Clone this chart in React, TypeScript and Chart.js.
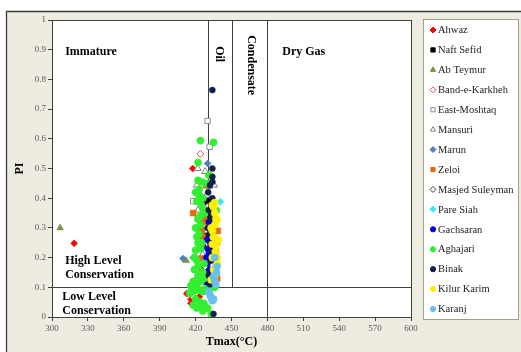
import React, { useEffect, useRef } from "react";
import { Chart, registerables } from "chart.js";
import { drawPoint } from "chart.js/helpers";

Chart.register(...registerables);

// ---------- DATA: [Tmax (°C), PI] ----------
const seriesNames = [
  "Ahwaz", "Naft Sefid", "Ab Teymur", "Band-e-Karkheh", "East-Moshtaq",
  "Mansuri", "Marun", "Zeloi", "Masjed Suleyman", "Pare Siah",
  "Gachsaran", "Aghajari", "Binak", "Kilur Karim", "Karanj",
];

const ahwaz: [number, number][] = [
  [318.5, 0.248], [417.6, 0.5], [412.6, 0.079], [423, 0.068], [416, 0.06], [416, 0.046],
];
const naftSefid: [number, number][] = [
  [430.6, 0.394], [433, 0.394], [428.5, 0.39], [427, 0.385], [430, 0.34], [428, 0.275],
  [432, 0.23], [435, 0.235], [426.5, 0.237], [429, 0.165], [425, 0.12], [431, 0.105],
  [433, 0.31], [434, 0.19], [429, 0.12], [427, 0.2],
];
const abTeymur: [number, number][] = [
  [306.8, 0.3], [412, 0.19],
];
const bandEKarkheh: [number, number][] = [
  [424, 0.549], [421, 0.05], [418.5, 0.066],
];
const eastMoshtaq: [number, number][] = [
  [430, 0.66], [431.7, 0.573], [418, 0.39], [421, 0.1],
];
const mansuri: [number, number][] = [
  [421.7, 0.5], [428, 0.49], [421, 0.444], [435.4, 0.444], [431, 0.44], [425, 0.38],
  [427, 0.37], [424, 0.3], [425, 0.29], [426, 0.21], [423, 0.14], [419, 0.12],
  [429, 0.41], [422, 0.36],
];
const marun: [number, number][] = [
  [430, 0.517], [418, 0.2], [409.4, 0.197], [420, 0.2], [427, 0.14],
];
const zeloi: [number, number][] = [
  [428.7, 0.444], [418, 0.35], [427, 0.34], [427, 0.32], [422, 0.33], [425, 0.293],
  [436.5, 0.29], [438.5, 0.29], [425, 0.242], [438, 0.254], [425, 0.197], [425, 0.16],
  [438, 0.13], [428, 0.12], [426, 0.27], [437, 0.22],
];
const masjedSuleyman: [number, number][] = [
  [428, 0.17], [420, 0.06],
];
const pareSiah: [number, number][] = [
  [440.6, 0.388], [437, 0.175],
];
const gachsaran: [number, number][] = [
  [431, 0.32], [432, 0.28], [429.5, 0.26], [430, 0.23], [431, 0.214], [430, 0.18],
  [432, 0.16], [431, 0.13], [430, 0.11], [428, 0.09], [429, 0.2], [431, 0.15],
];
const aghajari: [number, number][] = [
  [424, 0.594], [435, 0.588], [422, 0.52], [431, 0.478], [425, 0.455], [429, 0.45],
  [423, 0.43], [420, 0.42], [423, 0.41], [426, 0.4], [421, 0.39], [424, 0.385],
  [426, 0.365], [428, 0.35], [437.3, 0.358], [422, 0.33], [424, 0.31], [420, 0.3],
  [423, 0.28], [421, 0.27], [425, 0.25], [424, 0.23], [420, 0.225], [419, 0.2],
  [421, 0.19], [427, 0.18], [422, 0.17], [422, 0.14], [427, 0.13], [418, 0.12],
  [424, 0.12], [420, 0.11], [416, 0.105], [433, 0.1], [436, 0.1], [421, 0.1],
  [417, 0.095], [428, 0.095], [423, 0.09], [419, 0.088], [426, 0.085], [415, 0.08],
  [420, 0.06], [424, 0.05], [427, 0.045], [418, 0.04], [424, 0.035], [428, 0.03],
  [421, 0.03], [430, 0.03], [426, 0.02], [433, 0.01], [422, 0.46], [424, 0.34],
  [422, 0.25], [426, 0.15], [419, 0.16],
];
const binak: [number, number][] = [
  [434, 0.764], [434, 0.5], [434, 0.472], [434, 0.455], [432, 0.444], [430.5, 0.42],
  [434, 0.4], [431, 0.36], [433, 0.33], [430, 0.3], [432, 0.28], [432, 0.25],
  [433, 0.22], [433, 0.19], [432, 0.11], [435, 0.01], [431, 0.14], [433, 0.35],
];
const kilurKarim: [number, number][] = [
  [436, 0.385], [434, 0.377], [435, 0.37], [437, 0.33], [438, 0.327], [436, 0.31],
  [433, 0.3], [434, 0.29], [435, 0.27], [439, 0.26], [434, 0.245], [437, 0.24],
  [436.5, 0.22], [438, 0.2], [438, 0.18], [435, 0.16], [436, 0.14], [433, 0.125],
  [434, 0.2], [436, 0.35],
];
const karanj: [number, number][] = [
  [436, 0.2], [438, 0.17], [437.5, 0.15], [435, 0.135], [436, 0.12], [437, 0.11],
  [431, 0.085], [432, 0.075], [433, 0.065], [435, 0.06], [434, 0.055],
];

const seriesData = [
  ahwaz, naftSefid, abTeymur, bandEKarkheh, eastMoshtaq, mansuri, marun, zeloi,
  masjedSuleyman, pareSiah, gachsaran, aghajari, binak, kilurKarim, karanj,
];

// axis ranges / ticks
const xMin = 300, xMax = 600, xStep = 30;
const yMin = 0, yMax = 1, yStep = 0.1;

// zone boundaries [x1, y1, x2, y2] in data units
const zoneLines: [number, number, number, number][] = [
  [300, 0.1, 600, 0.1],
  [430, 0.1, 430, 1],
  [450, 0.1, 450, 1],
  [480, 0, 480, 1],
];

// zone labels [text, x, y, rotated]
const zoneLabels: [string, number, number, boolean][] = [
  ["Immature", 311, 0.892, false],
  ["Dry Gas", 492.4, 0.892, false],
  ["Oil", 439.8, 0.885, true],
  ["Condensate", 466.6, 0.848, true],
  ["High Level", 311, 0.189, false],
  ["Conservation", 311, 0.141, false],
  ["Low Level", 308.6, 0.067, false],
  ["Conservation", 308.6, 0.02, false],
];

// ---------- STYLES ----------
type Sty = { style: string; color: string; hollow: boolean; r: number };
const styles: Sty[] = [
  { style: "rectRot", color: "#FF0000", hollow: false, r: 3.5 },
  { style: "rect", color: "#000000", hollow: false, r: 3.3 },
  { style: "triangle", color: "#77933C", hollow: false, r: 4 },
  { style: "rectRot", color: "#C8605C", hollow: true, r: 3.5 },
  { style: "rect", color: "#8A8AA0", hollow: true, r: 3.8 },
  { style: "triangle", color: "#808080", hollow: true, r: 4 },
  { style: "rectRot", color: "#4F81BD", hollow: false, r: 3.5 },
  { style: "rect", color: "#E36C09", hollow: false, r: 4.2 },
  { style: "rectRot", color: "#404040", hollow: true, r: 3.5 },
  { style: "rectRot", color: "#33E6F0", hollow: false, r: 3.6 },
  { style: "circle", color: "#0000E0", hollow: false, r: 3 },
  { style: "circle", color: "#33EE33", hollow: false, r: 3.6 },
  { style: "circle", color: "#0F1F50", hollow: false, r: 3 },
  { style: "circle", color: "#FFF000", hollow: false, r: 3.6 },
  { style: "circle", color: "#66C0EE", hollow: false, r: 3.6 },
];

const serif = '"Liberation Serif", "Times New Roman", serif';

const decorPlugin = {
  id: "decor",
  beforeDraw(chart: any) {
    const { ctx, width, height, chartArea: a } = chart;
    ctx.save();
    ctx.fillStyle = "#ffffff";
    ctx.fillRect(0, 0, width, height);
    ctx.fillStyle = "#EEECE1";
    ctx.fillRect(6, 11, width - 6, height - 11);
    ctx.strokeStyle = "#3a3a3a";
    ctx.lineWidth = 1.3;
    ctx.beginPath();
    ctx.moveTo(6.5, height);
    ctx.lineTo(6.5, 11.5);
    ctx.lineTo(width, 11.5);
    ctx.stroke();
    ctx.fillStyle = "#ffffff";
    ctx.fillRect(a.left, a.top, a.right - a.left, a.bottom - a.top);
    ctx.restore();
  },
  beforeDatasetsDraw(chart: any) {
    const { ctx, chartArea: a, scales } = chart;
    const xs = scales.x, ys = scales.y;
    ctx.save();
    ctx.strokeStyle = "#404040";
    ctx.lineWidth = 1;
    for (const [x1, y1, x2, y2] of zoneLines) {
      ctx.beginPath();
      ctx.moveTo(Math.round(xs.getPixelForValue(x1)) + 0.5, Math.round(ys.getPixelForValue(y1)) + 0.5);
      ctx.lineTo(Math.round(xs.getPixelForValue(x2)) + 0.5, Math.round(ys.getPixelForValue(y2)) + 0.5);
      ctx.stroke();
    }
    ctx.strokeRect(Math.round(a.left) + 0.5, Math.round(a.top) + 0.5,
      Math.round(a.right - a.left), Math.round(a.bottom - a.top));
    ctx.restore();
  },
  afterDraw(chart: any) {
    const { ctx, scales } = chart;
    const xs = scales.x, ys = scales.y;
    ctx.save();
    ctx.fillStyle = "#000";
    ctx.font = `bold 12px ${serif}`;
    for (const [t, x, y, rot] of zoneLabels) {
      const px = xs.getPixelForValue(x), py = ys.getPixelForValue(y);
      if (rot) {
        ctx.save();
        ctx.translate(px, py);
        ctx.rotate(Math.PI / 2);
        ctx.textAlign = "center";
        ctx.textBaseline = "middle";
        ctx.fillText(t, 0, 0);
        ctx.restore();
      } else {
        ctx.textAlign = "left";
        ctx.textBaseline = "middle";
        ctx.fillText(t, px, py);
      }
    }
    // legend
    const lx = 423.5, ly = 19.5, lw = 95, lh = 300;
    ctx.fillStyle = "#ffffff";
    ctx.fillRect(lx, ly, lw, lh);
    ctx.strokeStyle = "#9DA283";
    ctx.lineWidth = 1;
    ctx.strokeRect(lx, ly, lw, lh);
    ctx.font = `10.5px ${serif}`;
    ctx.textAlign = "left";
    ctx.textBaseline = "middle";
    seriesNames.forEach((name, i) => {
      const cy = 30 + i * 19.93;
      const s = styles[i];
      ctx.fillStyle = s.hollow ? "#fff" : s.color;
      ctx.strokeStyle = s.color;
      drawPoint(ctx, {
        pointStyle: s.style as any,
        radius: s.style === "circle" ? 2.6 : 3,
        rotation: 0,
        borderWidth: s.hollow ? 0.8 : 0.5,
      } as any, 433, cy);
      ctx.fillStyle = "#222";
      ctx.fillText(name, 438, cy + 0.5);
    });
    ctx.restore();
  },
};

export default function App() {
  const ref = useRef<HTMLCanvasElement>(null);
  useEffect(() => {
    document.body.style.margin = "0";
    const datasets = seriesData.map((pts, i) => {
      const s = styles[i];
      return {
        label: seriesNames[i],
        data: pts.map(([x, y]) => ({ x, y })),
        pointStyle: s.style,
        pointRadius: s.r,
        pointHoverRadius: s.r,
        backgroundColor: s.hollow ? "#ffffff" : s.color,
        borderColor: s.color,
        borderWidth: s.hollow ? 1 : 0.5,
        order: seriesNames.length - i,
        showLine: false,
      };
    });
    const tickFont = { family: serif, size: 9 };
    const chart = new Chart(ref.current!, {
      type: "scatter",
      data: { datasets } as any,
      plugins: [decorPlugin],
      options: {
        responsive: false,
        animation: false,
        layout: { padding: { left: 0, top: 20, right: 110, bottom: 0 } },
        plugins: { legend: { display: false }, tooltip: { enabled: false }, title: { display: false } },
        scales: {
          x: {
            type: "linear",
            min: xMin, max: xMax,
            afterFit: (s: any) => { s.height = 35; },
            ticks: { stepSize: xStep, font: tickFont, color: "#595959", padding: 2, maxRotation: 0, autoSkip: false },
            grid: { drawOnChartArea: false, tickLength: 4, color: "#404040" },
            border: { display: false },
            title: { display: true, text: "Tmax(°C)", font: { family: serif, size: 12, weight: "bold" }, color: "#000", padding: { top: 0, bottom: 3 } },
          },
          y: {
            type: "linear",
            min: yMin, max: yMax,
            afterFit: (s: any) => { s.width = 52; },
            ticks: {
              stepSize: yStep, font: tickFont, color: "#595959", padding: 2, autoSkip: false,
              callback: (v: any) => String(Math.round(Number(v) * 10) / 10),
            },
            grid: { drawOnChartArea: false, tickLength: 4, color: "#404040" },
            border: { display: false },
            title: { display: true, text: "PI", font: { family: serif, size: 12, weight: "bold" }, color: "#000", padding: { top: 13, bottom: 0 } },
          },
        },
      } as any,
    });
    return () => chart.destroy();
  }, []);
  return (
    <div style={{ width: 521, height: 352 }}>
      <canvas ref={ref} width={521} height={352} style={{ display: "block" }} />
    </div>
  );
}
